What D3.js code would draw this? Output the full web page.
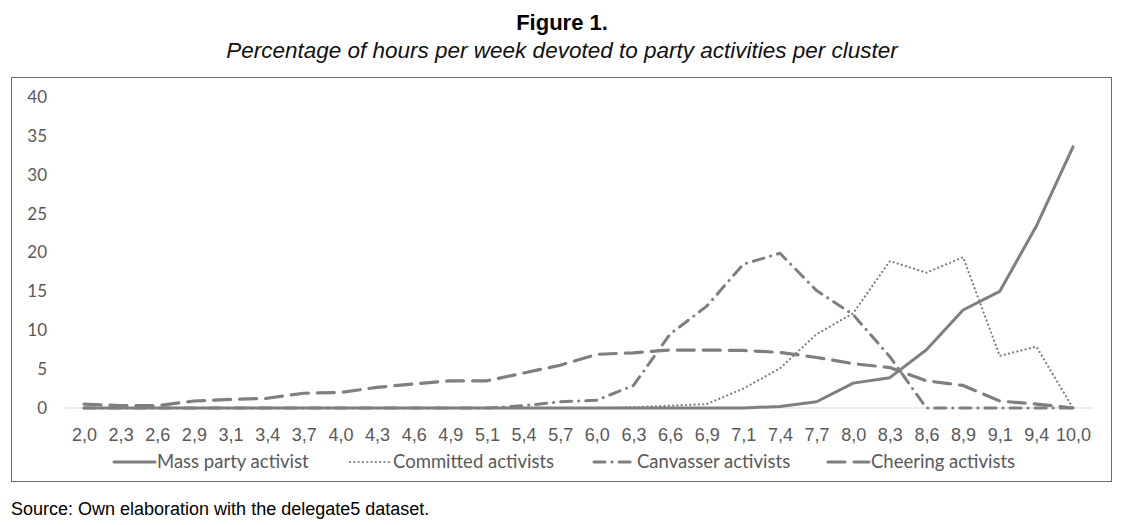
<!DOCTYPE html>
<html>
<head>
<meta charset="utf-8">
<script src="https://cdn.jsdelivr.net/npm/d3@7"></script>
<style>
  body { margin: 0; background: #fff; }
  svg { display: block; }
</style>
</head>
<body>
<div id="chart"></div>
<script>
// chart values
var categories = ["2,0","2,3","2,6","2,9","3,1","3,4","3,7","4,0","4,3","4,6","4,9","5,1","5,4","5,7",
  "6,0","6,3","6,6","6,9","7,1","7,4","7,7","8,0","8,3","8,6","8,9","9,1","9,4","10,0"];

var massParty = [0,0,0,0,0,0,0,0,0,0,0,0,0,0,0,0,0,0,0,0.2,0.8,3.2,3.9,7.5,12.6,15,23.4,33.6];
var committed = [0,0,0,0,0,0,0,0,0,0,0,0,0,0,0,0.1,0.3,0.5,2.5,5.1,9.5,12.2,18.9,17.4,19.4,6.7,7.9,0];
var canvasser = [0,0,0,0,0,0,0,0,0,0,0,0,0.3,0.8,1.0,2.9,9.5,13.1,18.5,19.9,15.1,12,6.6,0,0,0,0,0];
var cheering = [0.5,0.3,0.3,0.9,1.1,1.25,1.9,2.0,2.65,3.1,3.5,3.5,4.5,5.5,6.9,7.1,7.45,7.45,7.4,7.15,6.5,5.7,5.2,3.5,2.9,0.9,0.5,0];

var yTicks = [0,5,10,15,20,25,30,35,40];

var seriesNames = ["Mass party activist","Committed activists","Canvasser activists","Cheering activists"];

var W = 1123, H = 525;
var grey = "#7f7f7f";

var svg = d3.select("#chart").append("svg")
  .attr("width", W)
  .attr("height", H);

//titles
svg.append("text")
  .attr("x", 562).attr("y", 30)
  .attr("text-anchor", "middle")
  .attr("font-family", "Liberation Sans, Arial, sans-serif")
  .attr("font-weight", "bold")
  .attr("font-size", 22)
  .text("Figure 1.");
svg.append("text")
  .attr("x", 562).attr("y", 58)
  .attr("text-anchor", "middle")
  .attr("font-family", "Liberation Sans, Arial, sans-serif")
  .attr("font-style", "italic")
  .attr("font-size", 22.5)
  .attr("fill", "#111")
  .text("Percentage of hours per week devoted to party activities per cluster");

//chart frame
svg.append("rect")
  .attr("x", 11.5).attr("y", 77.5)
  .attr("width", 1100).attr("height", 404)
  .attr("fill", "none")
  .attr("stroke", "#6b6b6b")
  .attr("stroke-width", 1);

var x = d3.scalePoint()
  .domain(categories)
  .range([84, 1073]);

var y = d3.scaleLinear()
  .domain([0, 40])
  .range([408, 97]);

//y axis labels, no line
var yAxis = svg.append("g")
  .attr("transform", "translate(47,0)")
  .call(d3.axisLeft(y).tickValues(yTicks).tickSize(0).tickPadding(0));
yAxis.select(".domain").remove();
yAxis.selectAll("text")
  .attr("font-family", "Lato, sans-serif")
  .attr("font-size", 17)
  .attr("fill", "#595959");

//baseline
svg.append("line")
  .attr("x1", 65).attr("x2", 1093)
  .attr("y1", y(0)).attr("y2", y(0))
  .attr("stroke", "#d9d9d9")
  .attr("stroke-width", 1);

//x axis labels
var xAxis = svg.append("g")
  .attr("transform", "translate(0," + (y(0) + 20) + ")")
  .call(d3.axisBottom(x).tickSize(0).tickPadding(0));
xAxis.select(".domain").remove();
xAxis.selectAll("text")
  .attr("dy", "0.71em")
  .attr("font-family", "Liberation Sans Narrow, Arial Narrow, sans-serif")
  .attr("font-size", 18)
  .attr("fill", "#595959");

var styles = [
  {dash: null, width: 3, cap: "round"},
  {dash: "0.1,4.2", width: 2.2, cap: "round"},
  {dash: "11,7,0.1,7", width: 3, cap: "round"},
  {dash: "17,9", width: 3.2, cap: "round"}
];
var allSeries = [massParty, committed, canvasser, cheering];

var line = d3.line()
  .x(function(d, i){ return x(categories[i]); })
  .y(function(d){ return y(d); });

//draw cheering first, solid last
for (var s = allSeries.length - 1; s >= 0; s--){
  svg.append("path")
    .datum(allSeries[s])
    .attr("d", line)
    .attr("fill", "none")
    .attr("stroke", grey)
    .attr("stroke-width", styles[s].width)
    .attr("stroke-linecap", styles[s].cap)
    .attr("stroke-linejoin", "round")
    .attr("stroke-dasharray", styles[s].dash);
}

//legend
var legendX = [114, 350, 594, 828];
var legend = svg.append("g");
for (var k = 0; k < seriesNames.length; k++){
  var lg = legend.append("g").attr("transform", "translate(" + legendX[k] + ",462)");
  lg.append("line")
    .attr("x1", 0).attr("x2", 41)
    .attr("y1", 0).attr("y2", 0)
    .attr("stroke", grey)
    .attr("stroke-width", styles[k].width)
    .attr("stroke-linecap", styles[k].cap)
    .attr("stroke-dasharray", styles[k].dash);
  lg.append("text")
    .attr("x", 43).attr("y", 0)
    .attr("dy", "0.35em")
    .attr("font-family", "Lato, sans-serif")
    .attr("font-size", 18.5)
    .attr("fill", "#595959")
    .text(seriesNames[k]);
}

//source note
svg.append("text")
  .attr("x", 11).attr("y", 515)
  .attr("font-family", "Liberation Sans, Arial, sans-serif")
  .attr("font-size", 18)
  .attr("fill", "#000")
  .text("Source: Own elaboration with the delegate5 dataset.");
</script>
</body>
</html>
